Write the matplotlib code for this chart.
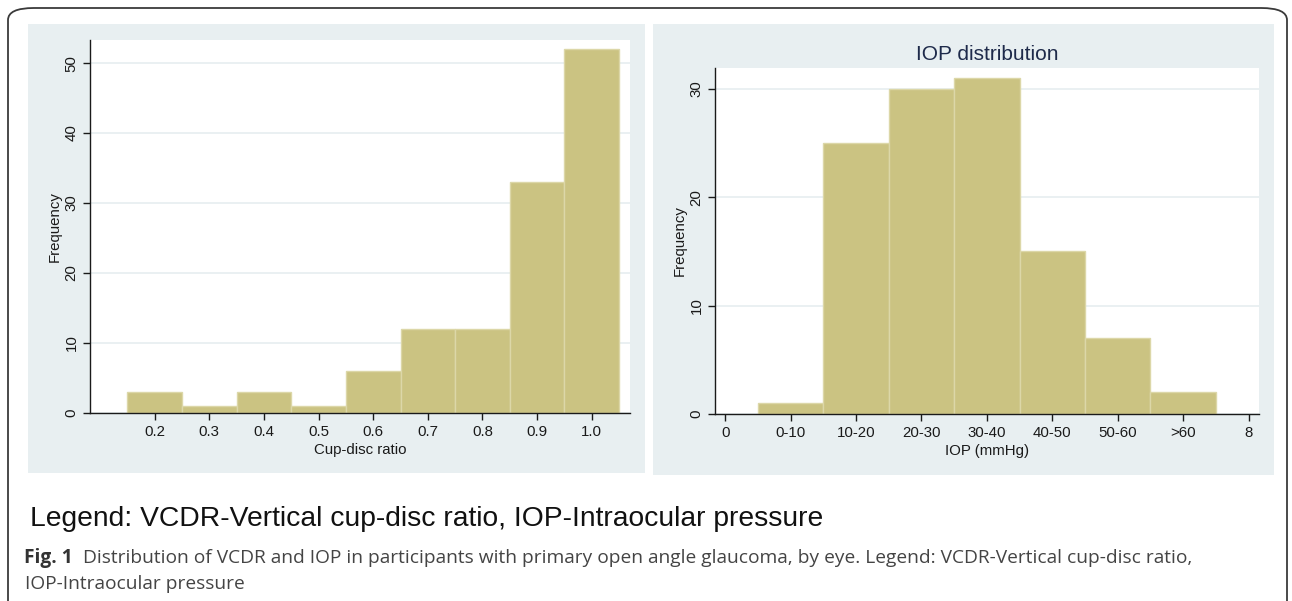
import matplotlib
matplotlib.use("Agg")
import matplotlib.pyplot as plt
from matplotlib.patches import Rectangle, FancyBboxPatch

# ---- data ----
cdr_bins = [0.2, 0.3, 0.4, 0.5, 0.6, 0.7, 0.8, 0.9, 1.0]
cdr_freq = [3, 1, 3, 1, 6, 12, 12, 33, 52]
cdr_ticklabels = ["0.2", "0.3", "0.4", "0.5", "0.6", "0.7", "0.8", "0.9", "1.0"]

iop_pos = [1, 2, 3, 4, 5, 6, 7]
iop_freq = [1, 25, 30, 31, 15, 7, 2]
iop_tickpos = [0, 1, 2, 3, 4, 5, 6, 7, 8]
iop_ticklabels = ["0", "0-10", "10-20", "20-30", "30-40", "40-50", "50-60", ">60", "8"]

W, H = 1292, 601
plt.rcParams['font.family'] = ['Liberation Sans', 'DejaVu Sans']
fig = plt.figure(figsize=(W / 100, H / 100), dpi=100)

BAR = "#cbc382"
EDGE = "#dcd7a8"
PANEL = "#e8eff1"
GRID = "#e6eef0"

def fx(x):
    return x / W

def fy(y):
    return 1 - y / H

# outer rounded border
border = FancyBboxPatch((fx(8), fy(640)), fx(1287 - 8), (640 - 8) / H,
                        boxstyle="round,pad=0,rounding_size=0.02",
                        transform=fig.transFigure, fill=False,
                        edgecolor="#3a3a3a", linewidth=1.3, clip_on=False,
                        zorder=-2)
fig.patches.append(border)

# panel backgrounds
fig.patches.append(Rectangle((fx(28), fy(473)), fx(645 - 28), (473 - 24) / H,
                             transform=fig.transFigure, facecolor=PANEL,
                             edgecolor="none", zorder=-1))
fig.patches.append(Rectangle((fx(653), fy(475)), fx(1274 - 653), (475 - 24) / H,
                             transform=fig.transFigure, facecolor=PANEL,
                             edgecolor="none", zorder=-1))

def style_axes(ax):
    for s in ["top", "right"]:
        ax.spines[s].set_visible(False)
    for s in ["left", "bottom"]:
        ax.spines[s].set_color("#1a1a1a")
        ax.spines[s].set_linewidth(1.0)
    ax.tick_params(axis="both", direction="out", length=5, width=1,
                   color="#1a1a1a", labelsize=10.8, labelcolor="#1a1a1a")
    ax.tick_params(axis="y", labelrotation=90, pad=3)
    ax.yaxis.grid(True, color=GRID, linewidth=1.2)
    ax.set_axisbelow(True)
    ax.set_facecolor("white")

# ---- left: cup-disc ratio ----
ax1 = fig.add_axes([fx(89.6), fy(412.7), fx(630 - 89.6), (412.7 - 40) / H], zorder=1)
ax1.bar(cdr_bins, cdr_freq, width=0.1, color=BAR, edgecolor=EDGE, linewidth=1)
ax1.set_xlim(0.081, 1.07)
ax1.set_ylim(0, 53.3)
ax1.set_xticks(cdr_bins)
ax1.set_xticklabels(cdr_ticklabels)
ax1.set_yticks([0, 10, 20, 30, 40, 50])
style_axes(ax1)
for lab in ax1.get_yticklabels():
    lab.set_va("center")
ax1.set_xlabel("Cup-disc ratio", fontsize=10.8, labelpad=3, color="#1a1a1a")
ax1.set_ylabel("Frequency", fontsize=10.8, labelpad=2, color="#1a1a1a")

# ---- right: IOP ----
ax2 = fig.add_axes([fx(714.7), fy(414), fx(1259 - 714.7), (414 - 68) / H], zorder=1)
ax2.bar(iop_pos, iop_freq, width=1.0, color=BAR, edgecolor=EDGE, linewidth=1)
ax2.set_xlim(-0.16, 8.16)
ax2.set_ylim(0, 31.9)
ax2.set_xticks(iop_tickpos)
ax2.set_xticklabels(iop_ticklabels)
ax2.set_yticks([0, 10, 20, 30])
style_axes(ax2)
for lab in ax2.get_yticklabels():
    lab.set_va("center")
ax2.set_xlabel("IOP (mmHg)", fontsize=10.8, labelpad=3, color="#1a1a1a")
ax2.set_ylabel("Frequency", fontsize=10.8, labelpad=2, color="#1a1a1a")
ax2.set_title("IOP distribution", fontsize=15, color="#1e2a4a", pad=6)

# ---- legend line and caption ----
fig.text(fx(30), fy(519), "Legend: VCDR-Vertical cup-disc ratio, IOP-Intraocular pressure",
         fontsize=20.3, color="#111111", va="center", ha="left")
fig.text(fx(24), fy(558), "Fig. 1", fontsize=13.8, color="#333333", fontweight="bold",
         va="center", ha="left", family="Open Sans")
fig.text(fx(83), fy(558),
         "Distribution of VCDR and IOP in participants with primary open angle glaucoma, by eye. Legend: VCDR-Vertical cup-disc ratio,",
         fontsize=13.8, color="#444444", va="center", ha="left", family="Open Sans")
fig.text(fx(25), fy(584), "IOP-Intraocular pressure",
         fontsize=13.8, color="#444444", va="center", ha="left", family="Open Sans")

fig.savefig("out.png", dpi=100)
